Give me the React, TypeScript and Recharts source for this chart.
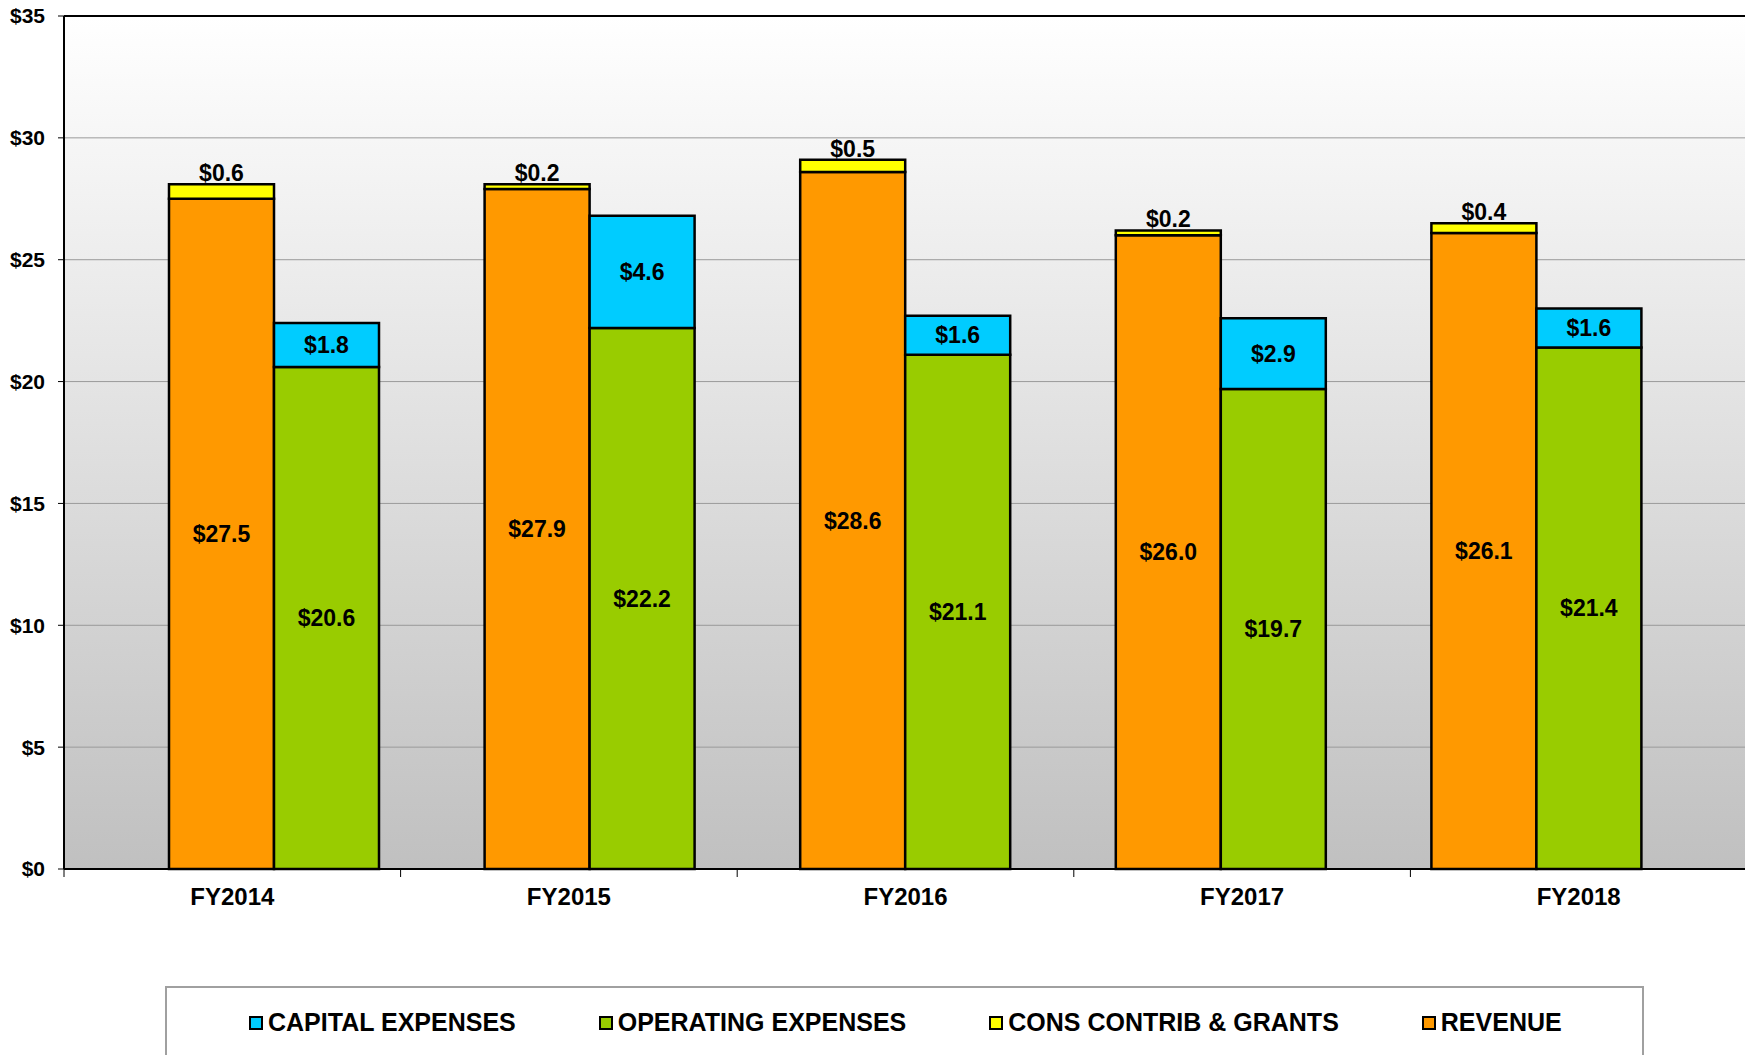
import React from 'react'
import { BarChart, Bar, XAxis, YAxis, CartesianGrid, ReferenceLine, LabelList } from 'recharts'

const years = ["FY2014", "FY2015", "FY2016", "FY2017", "FY2018"]
const revenue = [27.5, 27.9, 28.6, 26.0, 26.1]
const consContrib = [0.6, 0.2, 0.5, 0.2, 0.4]
const operating = [20.6, 22.2, 21.1, 19.7, 21.4]
const capital = [1.8, 4.6, 1.6, 2.9, 1.6]
const yTicks = [0, 5, 10, 15, 20, 25, 30, 35]

const legendItems = [
  { name: "CAPITAL EXPENSES", color: "#00CCFF" },
  { name: "OPERATING EXPENSES", color: "#99CC00" },
  { name: "CONS CONTRIB & GRANTS", color: "#FFFF00" },
  { name: "REVENUE", color: "#FF9900" },
]

const font = '"Liberation Sans", Arial, sans-serif'
const halfBand = (1747 - 64) / 10

const data = years.map((y, i) => ({
  year: y,
  revenue: revenue[i],
  cons: consContrib[i],
  operating: operating[i],
  capital: capital[i],
}))

const money = (v: any) => `$${Number(v).toFixed(1)}`

const XTick = (props: any) => {
  const { x, y, payload } = props
  return (
    <g>
      <line x1={x - halfBand} x2={x - halfBand} y1={y} y2={y + 8} stroke="#000" strokeWidth={1} />
      <text x={x} y={y + 27} dy="0.355em" textAnchor="middle" fontFamily={font} fontWeight="bold" fontSize={24} fill="#000">
        {payload.value}
      </text>
    </g>
  )
}

const labelStyle = { fontFamily: font, fontWeight: 'bold', fontSize: 23, fill: '#000' }

export default function App() {
  return (
    <div style={{ position: 'absolute', left: 0, top: 0, width: 1745, height: 1055, overflow: 'hidden', background: '#fff' }}>
      <svg width={0} height={0} style={{ position: 'absolute' }}>
        <defs>
          <linearGradient id="plotBg" x1="0" y1="0" x2="0" y2="1">
            <stop offset="0%" stopColor="#ffffff" />
            <stop offset="100%" stopColor="#c0c0c0" />
          </linearGradient>
        </defs>
      </svg>
      <BarChart
        width={1747}
        height={1055}
        data={data}
        margin={{ top: 16, right: 0, bottom: 126, left: 0 }}
        barGap={0}
      >
        <CartesianGrid xAxisId="bars" vertical={false} stroke="#9a9a9a" fill="url(#plotBg)" />
        <XAxis
          xAxisId="cat"
          dataKey="year"
          height={60}
          tickLine={false}
          tickSize={0}
          tickMargin={0}
          axisLine={{ stroke: '#000', strokeWidth: 2 }}
          tick={<XTick />}
        />
        <XAxis xAxisId="bars" dataKey="year" hide height={0} padding={{ left: 52, right: 53 }} />
        <YAxis
          width={64}
          domain={[0, 35]}
          ticks={yTicks}
          interval={0}
          tickSize={6}
          tickMargin={13}
          tickFormatter={(v: number) => `$${v}`}
          tickLine={{ stroke: '#000' }}
          axisLine={{ stroke: '#000', strokeWidth: 2 }}
          tick={{ fontFamily: font, fontWeight: 'bold', fontSize: 21, fill: '#000' }}
        />
        <ReferenceLine xAxisId="bars" y={35} stroke="#000" strokeWidth={2} />
        <Bar xAxisId="bars" dataKey="revenue" stackId="rev" fill="#FF9900" stroke="#000" strokeWidth={2.5} barSize={105} isAnimationActive={false}>
          <LabelList dataKey="revenue" position="center" formatter={money} style={labelStyle} />
        </Bar>
        <Bar xAxisId="bars" dataKey="cons" stackId="rev" fill="#FFFF00" stroke="#000" strokeWidth={2.5} barSize={105} isAnimationActive={false}>
          <LabelList dataKey="cons" position="top" offset={3} formatter={money} style={labelStyle} />
        </Bar>
        <Bar xAxisId="bars" dataKey="operating" stackId="exp" fill="#99CC00" stroke="#000" strokeWidth={2.5} barSize={105} isAnimationActive={false}>
          <LabelList dataKey="operating" position="center" formatter={money} style={labelStyle} />
        </Bar>
        <Bar xAxisId="bars" dataKey="capital" stackId="exp" fill="#00CCFF" stroke="#000" strokeWidth={2.5} barSize={105} isAnimationActive={false}>
          <LabelList dataKey="capital" position="center" formatter={money} style={labelStyle} />
        </Bar>
      </BarChart>
      <div
        style={{
          position: 'absolute', left: 165, top: 986, width: 1479, height: 90,
          border: '2px solid #a0a0a0', background: '#fff', boxSizing: 'border-box',
          display: 'flex', alignItems: 'flex-start', paddingLeft: 82, paddingTop: 20, gap: 83,
          fontFamily: font, fontWeight: 'bold', fontSize: 25, color: '#000',
        }}
      >
        {legendItems.map((it) => (
          <div key={it.name} style={{ display: 'flex', alignItems: 'center', whiteSpace: 'nowrap' }}>
            <span style={{ width: 10, height: 10, border: '2px solid #000', background: it.color, marginRight: 5, display: 'inline-block' }} />
            <span>{it.name}</span>
          </div>
        ))}
      </div>
    </div>
  )
}
